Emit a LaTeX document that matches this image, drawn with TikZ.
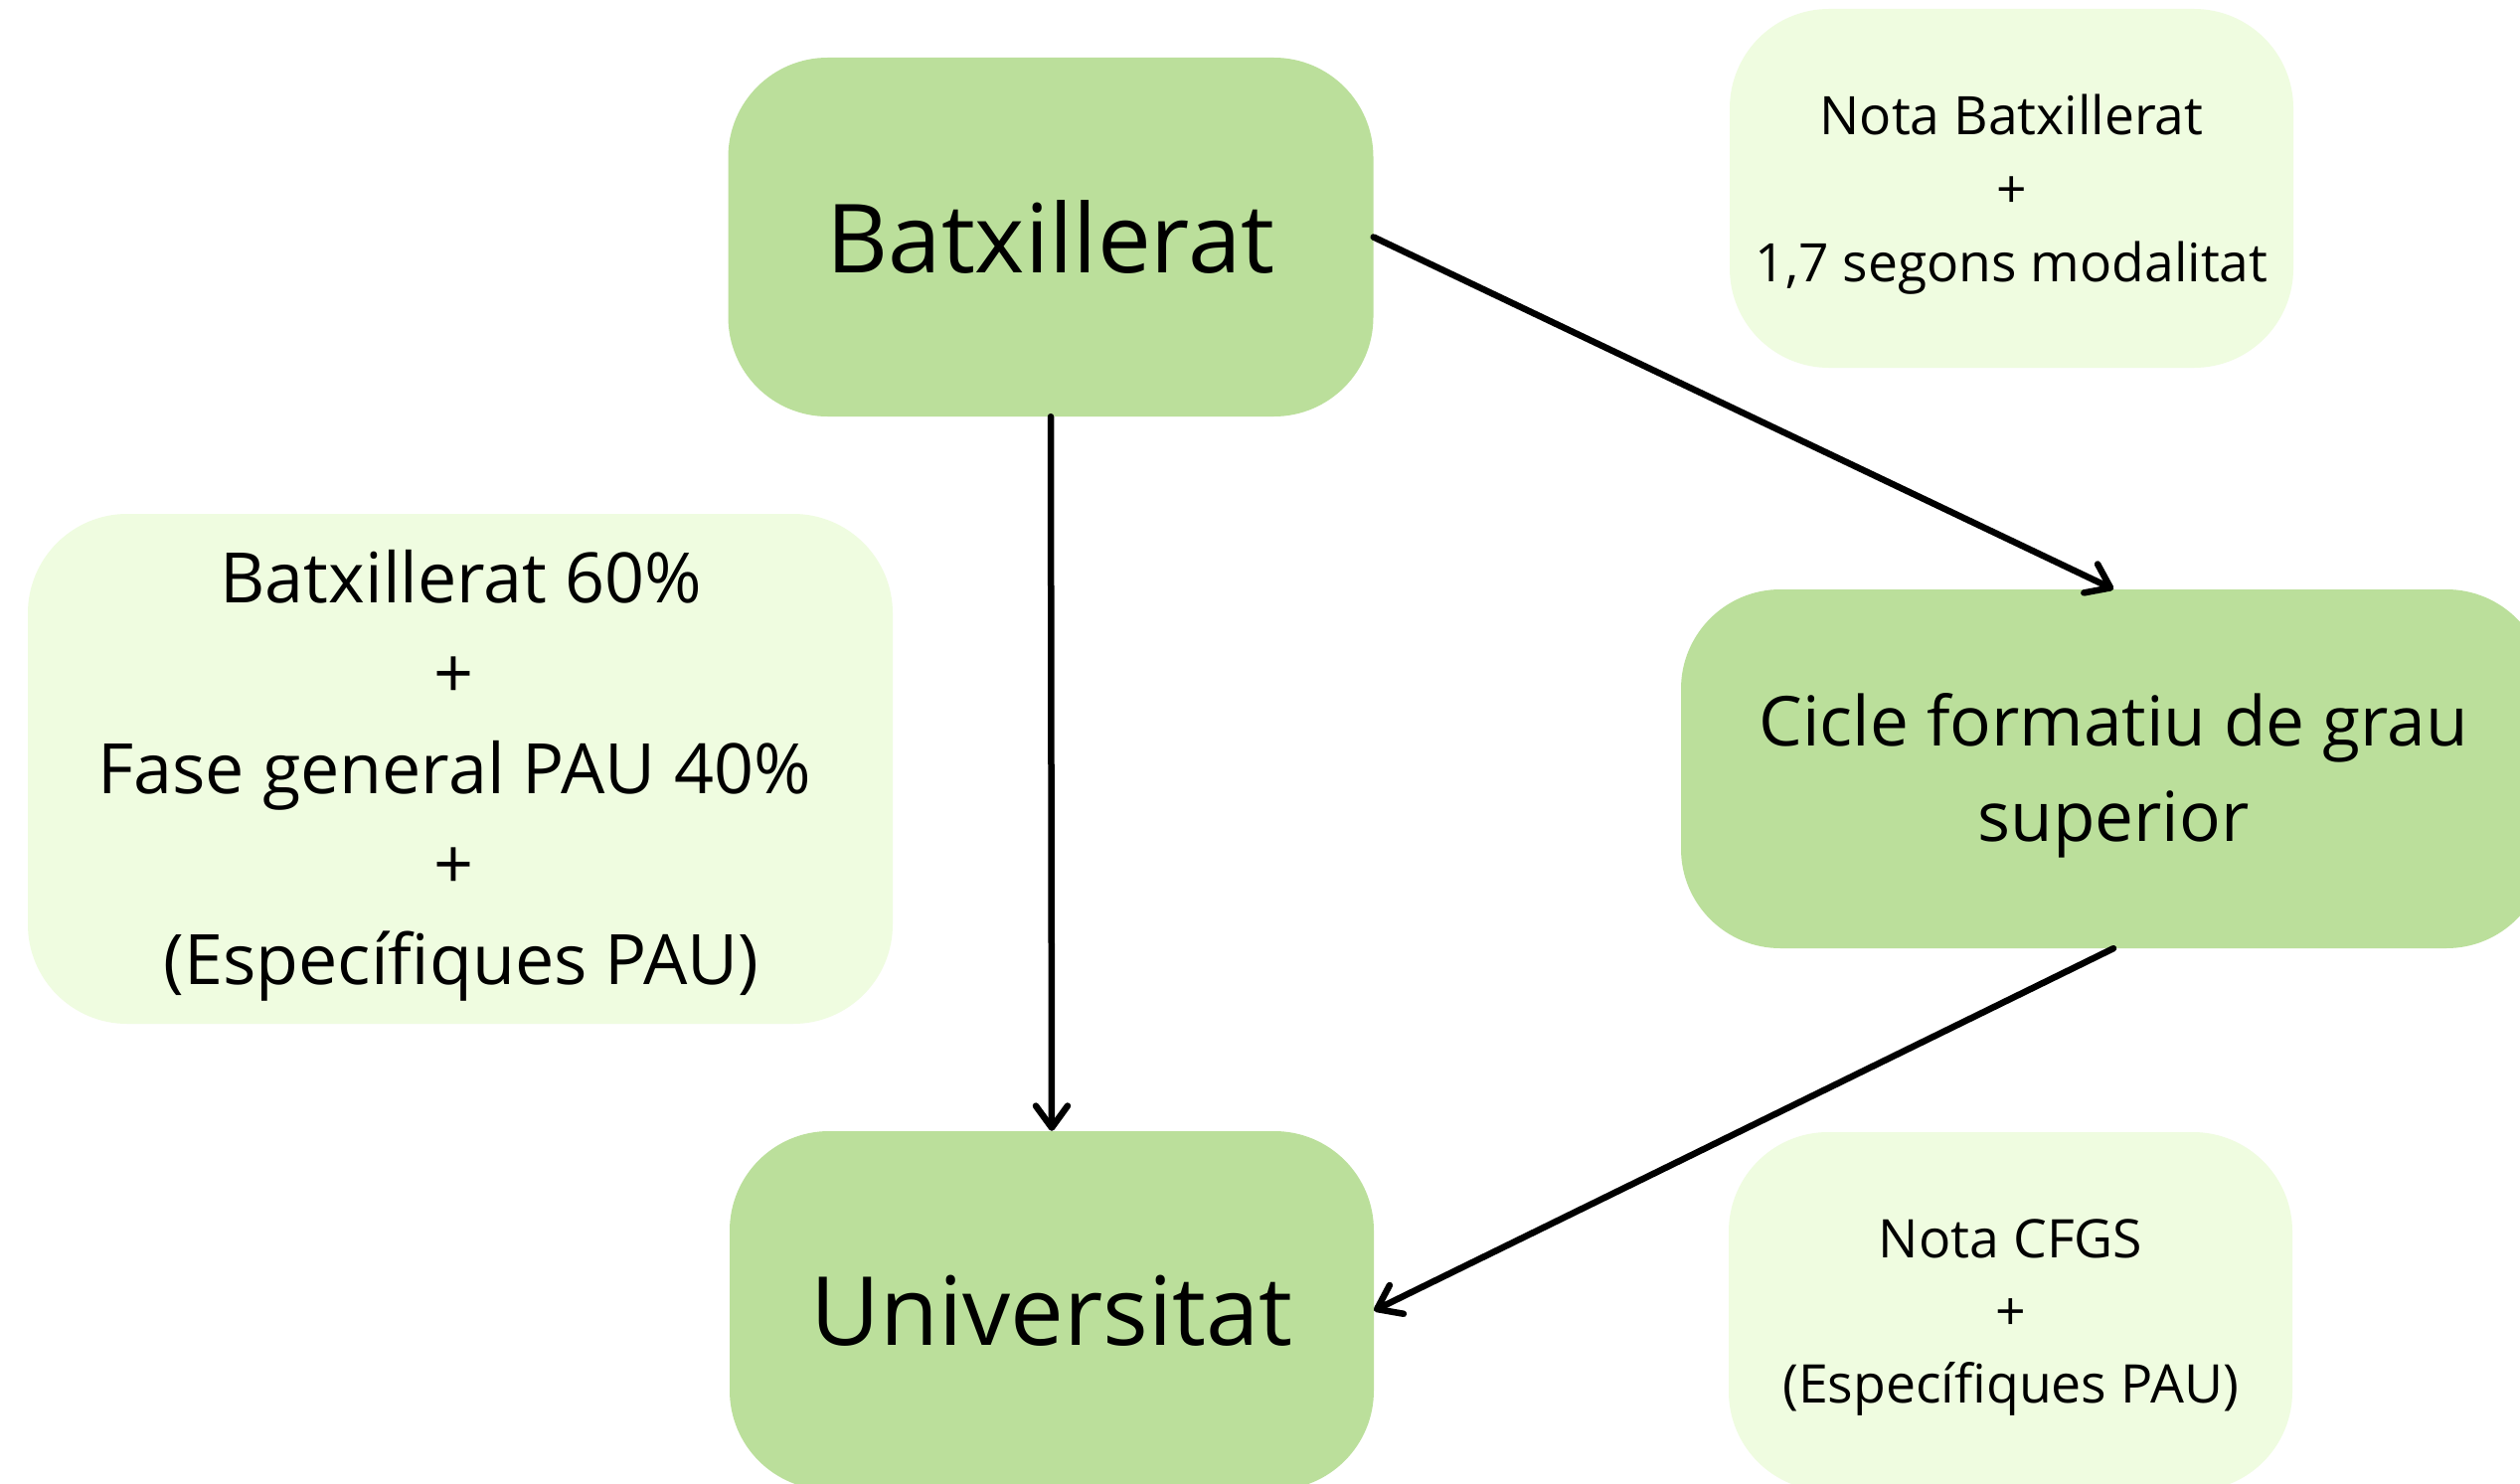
\documentclass[tikz,border=0pt]{standalone}
\usepackage{fontspec}
\setmainfont{Open Sans}
\usetikzlibrary{arrows.meta}
\definecolor{darkgreen}{RGB}{187,223,155}
\definecolor{lightgreen}{RGB}{239,252,224}
\tikzset{
  mainbox/.style={fill=darkgreen, rounded corners=100pt, inner sep=0pt, align=center, minimum height=361pt},
  notebox/.style={fill=lightgreen, rounded corners=100pt, inner sep=0pt, align=center},
  boxtext/.style={inner sep=0pt, align=center},
  conn/.style={line width=6.5pt, line cap=round, -{Straight Barb[length=22pt,width=32pt,round]}}
}
\begin{document}
\begin{tikzpicture}[x=1pt,y=-1pt]
\useasboundingbox (0,0) rectangle (2535,1493);
\clip (0,0) rectangle (2535,1493);
\fill[white] (0,0) rectangle (2535,1493);
\node[mainbox, minimum width=649pt, font=\fontsize{96}{110}\selectfont] (batx) at (1057,238.5) {Batxillerat};
\node[mainbox, minimum width=648pt, font=\fontsize{96}{110}\selectfont] (univ) at (1058,1318.5) {Universitat};
\node[mainbox, minimum width=870pt] (cicle) at (2126,773.5) {};
\node[boxtext, font=\fontsize{69.3}{96}\selectfont] (cicletext) at ([yshift=-6.5pt]cicle.center) {Cicle formatiu de grau\\superior};
\node[notebox, minimum width=870pt, minimum height=513pt] (left) at (463,773.5) {};
\node[boxtext, font=\fontsize{70}{96}\selectfont] (lefttext) at ([xshift=-6pt,yshift=-6.5pt]left.center) {\hspace*{14pt}Batxillerat 60\%\\+\\Fase general PAU 40\%\\+\\\hspace*{14pt}(Específiques PAU)};
\node[notebox, minimum width=567pt, minimum height=361pt] (nb) at (2023.5,189.5) {};
\node[boxtext, font=\fontsize{53.4}{74}\selectfont] (nbtext) at ([yshift=-6.5pt]nb.center) {Nota Batxillerat\\+\\1,7 segons modalitat};
\node[notebox, minimum width=567pt, minimum height=361pt] (cfgs) at (2022.5,1319.5) {};
\node[boxtext, font=\fontsize{53.6}{73}\selectfont] (cfgstext) at ([yshift=-6.5pt]cfgs.center) {Nota CFGS\\+\\(Específiques PAU)};
\draw[conn] (batx.south) -- (univ.north);
\draw[conn] (batx.east) -- (cicle.north);
\draw[conn] (cicle.south) -- (univ.east);
\end{tikzpicture}
\end{document}
